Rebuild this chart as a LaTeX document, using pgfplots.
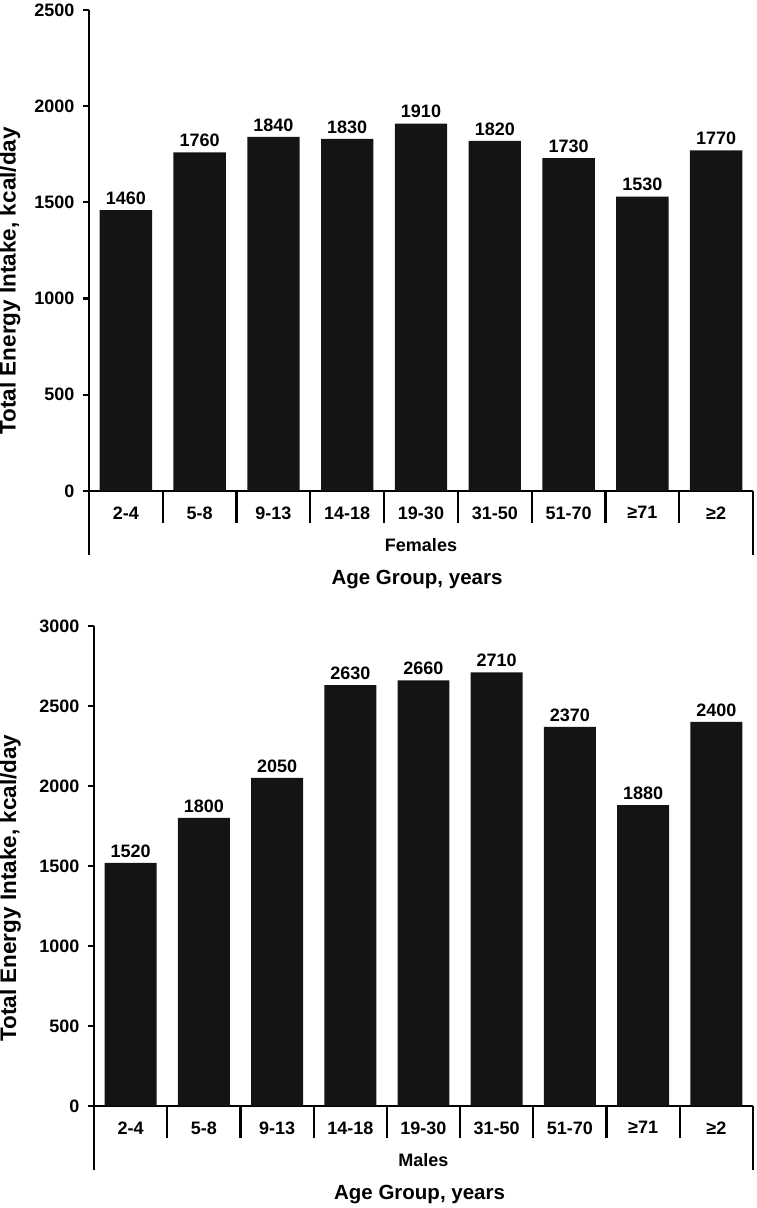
\documentclass[border=0pt]{standalone}
\usepackage{pgfplots}
\pgfplotsset{compat=1.18}
\usepackage{fontspec}
\setmainfont{Liberation Sans}
\definecolor{barc}{RGB}{20,20,20}

\pgfplotstableread{
x val
0 1460
1 1760
2 1840
3 1830
4 1910
5 1820
6 1730
7 1530
8 1770
}\females
\pgfplotstableread{
x val
0 1520
1 1800
2 2050
3 2630
4 2660
5 2710
6 2370
7 1880
8 2400
}\males

\pgfplotsset{
 panel/.style={
  scale only axis, anchor=south west, clip=false,
  axis x line=bottom, axis y line=left,
  axis line style={-, line width=2.4pt, black},
  xmin=-0.5, xmax=8.5, ymin=0,
  xtick={0,...,8},
  xticklabels={2-4,5-8,9-13,14-18,19-30,31-50,51-70,≥71,≥2},
  minor xtick={0.5,1.5,...,7.5},
  tick align=outside,
  major tick length=6pt, minor tick length=32pt,
  major x tick style={draw=none},
  minor x tick style={line width=2.2pt, black},
  ytick style={line width=2.2pt, black},
  extra x ticks={-0.5,8.5}, extra x tick labels={},
  extra x tick style={major tick length=64pt, major x tick style={draw=black, line width=2.4pt}},
  /pgf/number format/1000 sep={},
  /pgf/number format/assume math mode=true,
  ticklabel style={font=\fontsize{18}{21}\selectfont\bfseries},
  xticklabel style={yshift=-6pt},
  yticklabel style={xshift=-5pt},
  ylabel={Total Energy Intake, kcal/day},
  ylabel style={anchor=center, font=\fontsize{22.5}{26}\selectfont\bfseries},
  ybar, bar width=0.71,
  nodes near coords,
  every node near coord/.append style={font=\fontsize{18}{21}\selectfont\bfseries, black, yshift=2pt},
 }
}

\begin{document}
\begin{tikzpicture}
\useasboundingbox (0,0) rectangle (757pt,1208pt);
\begin{axis}[panel, at={(89pt,717pt)}, width=664pt, height=481pt,
  ymax=2500, ytick={0,500,...,2500},
  ylabel style={at={(axis description cs:-0.119,0.437)}}]
\addplot[fill=barc, draw=none] table[x=x, y=val] {\females};
\node[font=\fontsize{18}{21}\selectfont\bfseries] at (axis description cs:0.5,-0.112) {Females};
\node[font=\fontsize{20.5}{24}\selectfont\bfseries] at (axis description cs:0.494,-0.185) {Age Group, years};
\end{axis}
\begin{axis}[panel, at={(94pt,102pt)}, width=659pt, height=480pt,
  ymax=3000, ytick={0,500,...,3000},
  ylabel style={at={(axis description cs:-0.127,0.454)}}]
\addplot[fill=barc, draw=none] table[x=x, y=val] {\males};
\node[font=\fontsize{18}{21}\selectfont\bfseries] at (axis description cs:0.5,-0.1125) {Males};
\node[font=\fontsize{20.5}{24}\selectfont\bfseries] at (axis description cs:0.494,-0.185) {Age Group, years};
\end{axis}
\end{tikzpicture}
\end{document}
